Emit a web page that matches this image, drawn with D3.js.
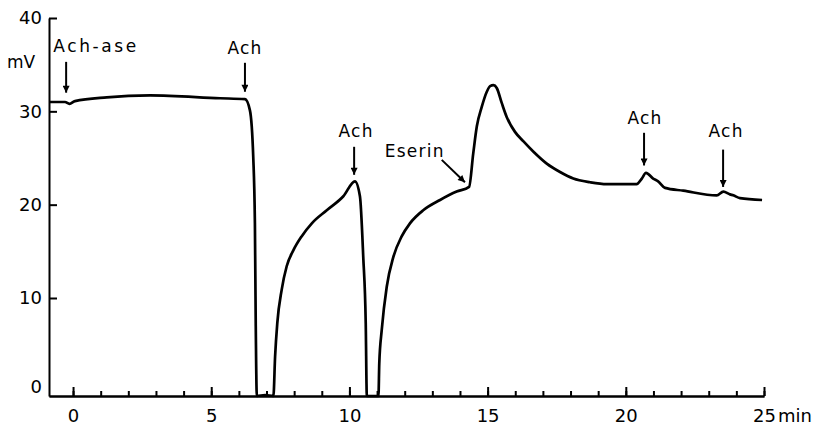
<!DOCTYPE html>
<html>
<head>
<meta charset="utf-8">
<script src="https://cdn.jsdelivr.net/npm/d3@7"></script>
<style>
  body { margin: 0; background: #fff; }
  text { font-family: "DejaVu Sans", sans-serif; fill: #000; }
</style>
</head>
<body>
<script>
// Width and height
var w = 817;
var h = 429;

// Membrane potential trace (time in min, potential in mV)
var times = [-0.87, -0.29, -0.13, 0.07, 1.22, 2.79, 5.32, 6.22, 6.40, 6.52, 6.58, 6.61, 6.65,
             6.95, 7.25, 7.31, 7.39, 7.55, 7.73, 7.97, 8.27, 8.64, 9.18, 9.78, 10.20,
             10.38, 10.50, 10.59, 10.63,
             11.05, 11.08, 11.17, 11.35, 11.59, 11.89, 12.19, 12.67, 13.28, 13.88, 14.33,
             14.48, 14.61, 14.79, 14.97, 15.09, 15.21, 15.33, 15.51, 15.69, 15.99, 16.29,
             16.65, 17.14, 17.62, 18.10, 18.71, 19.31, 20.39, 20.58, 20.73, 20.99, 21.17,
             21.42, 22.08, 23.29, 23.53, 23.77, 23.89, 24.13, 24.93];
var mV = [31.0, 31.0, 30.8, 31.1, 31.5, 31.7, 31.4, 31.3, 30.1, 25.1, 18.0, 7.3, -0.5,
          -0.4, -0.5, 3.7, 7.3, 10.9, 13.4, 15.1, 16.6, 18.0, 19.4, 20.9, 22.5,
          20.9, 14.4, 7.3, -0.5,
          -0.5, 3.0, 6.6, 11.2, 14.4, 16.6, 18.0, 19.4, 20.5, 21.4, 21.9,
          25.5, 28.4, 30.5, 32.1, 32.7, 32.8, 32.5, 30.9, 29.4, 27.8, 26.8,
          25.7, 24.4, 23.5, 22.8, 22.4, 22.2, 22.2, 22.8, 23.4, 22.8, 22.5,
          21.8, 21.5, 21.0, 21.4, 21.1, 21.0, 20.7, 20.5];

// Tick values
var yTicks = [0, 10, 20, 30, 40];
var xMajor = [0, 5, 10, 15, 20, 25];
var xMinor = d3.range(0, 26);

// Drug additions: label, time, potential at arrow tip, potential at arrow tail
var drugLabels = ["Ach-ase", "Ach", "Ach", "Eserin", "Ach", "Ach"];
var drugTimes  = [-0.25, 6.22, 10.17, 14.18, 20.66, 23.52];
var tipValues  = [32.0, 32.1, 23.2, 22.4, 24.2, 21.9];
var tailValues = [35.3, 35.2, 26.2, 24.8, 27.7, 25.9];
var tailTimes  = [-0.25, 6.22, 10.17, 13.34, 20.66, 23.52];

var trace = times.map(function(t, i) { return [t, mV[i]]; });

// Create scale functions
var xScale = d3.scaleLinear()
              .domain([-0.87, 25])
              .range([49, 764]);

var yScale = d3.scaleLinear()
              .domain([-0.5, 40])
              .range([396, 18]);

// Create SVG element
var svg = d3.select("body")
            .append("svg")
            .attr("width", w)
            .attr("height", h);

var defs = svg.append("defs");
defs.append("marker")
  .attr("id", "head")
  .attr("viewBox", "0 0 10 10")
  .attr("refX", 10)
  .attr("refY", 5)
  .attr("markerUnits", "userSpaceOnUse")
  .attr("markerWidth", 12)
  .attr("markerHeight", 7)
  .attr("orient", "auto")
  .append("path")
  .attr("d", "M0,0 L10,5 L0,10 Z")
  .attr("fill", "#000");

// Y axis
var yAxis = d3.axisLeft(yScale)
              .tickValues(yTicks)
              .tickSizeInner(-8)
              .tickSizeOuter(0)
              .tickPadding(7);

var gy = svg.append("g")
  .attr("transform", "translate(" + xScale.range()[0] + ",0)")
  .call(yAxis);
gy.selectAll("text").attr("font-size", "18px").attr("font-family", "DejaVu Sans, sans-serif");
gy.selectAll(".tick").filter(function(d) { return d === 0; }).select("line").remove();
gy.selectAll(".tick").filter(function(d) { return d === 0; }).select("text").attr("dy", "0.05em");

// X axis: minor then major ticks
var xAxisMinor = d3.axisBottom(xScale)
              .tickValues(xMinor)
              .tickSizeInner(-5)
              .tickSizeOuter(0)
              .tickFormat("");

var xAxis = d3.axisBottom(xScale)
              .tickValues(xMajor)
              .tickSizeInner(-9)
              .tickSizeOuter(0)
              .tickPadding(13);

svg.append("g")
  .attr("transform", "translate(0," + yScale.range()[0] + ")")
  .call(xAxisMinor);

var gx = svg.append("g")
  .attr("transform", "translate(0," + yScale.range()[0] + ")")
  .call(xAxis);
gx.selectAll("text").attr("font-size", "18px").attr("font-family", "DejaVu Sans, sans-serif");

svg.selectAll(".domain, .tick line")
  .attr("stroke", "#000")
  .attr("stroke-width", 2);

// Unit labels
svg.append("text")
  .attr("x", 7)
  .attr("y", 68)
  .attr("font-size", "17px")
  .text("mV");

svg.append("text")
  .attr("x", 778)
  .attr("y", yScale.range()[0] + 26)
  .attr("font-size", "18px")
  .text("min");

// Trace
var line = d3.line()
  .x(function(d) { return xScale(d[0]); })
  .y(function(d) { return yScale(d[1]); })
  .curve(d3.curveMonotoneX);

svg.append("path")
  .datum(trace)
  .attr("d", line)
  .attr("fill", "none")
  .attr("stroke", "#000")
  .attr("stroke-width", 2.7)
  .attr("stroke-linejoin", "round");

// Arrows
svg.selectAll("line.arrow")
  .data(drugLabels)
  .enter()
  .append("line")
  .attr("class", "arrow")
  .attr("x1", function(d, i) { return xScale(tailTimes[i]); })
  .attr("y1", function(d, i) { return yScale(tailValues[i]); })
  .attr("x2", function(d, i) { return xScale(drugTimes[i]); })
  .attr("y2", function(d, i) { return yScale(tipValues[i]); })
  .attr("stroke", "#000")
  .attr("stroke-width", 2)
  .attr("marker-end", "url(#head)");

// Labels
var labelDx = [30, 0, 2, -27, 1, 3];
var labelDy = [-10, -9, -10, -3, -9, -13];
var labelSpacing = [2.6, 1.2, 1.2, 1.2, 1.2, 1.2];
svg.selectAll("text.drug")
  .data(drugLabels)
  .enter()
  .append("text")
  .attr("class", "drug")
  .attr("x", function(d, i) { return xScale(tailTimes[i]) + labelDx[i]; })
  .attr("y", function(d, i) { return yScale(tailValues[i]) + labelDy[i]; })
  .attr("text-anchor", "middle")
  .attr("font-size", "17px")
  .attr("letter-spacing", function(d, i) { return labelSpacing[i] + "px"; })
  .text(function(d) { return d; });
</script>
</body>
</html>
